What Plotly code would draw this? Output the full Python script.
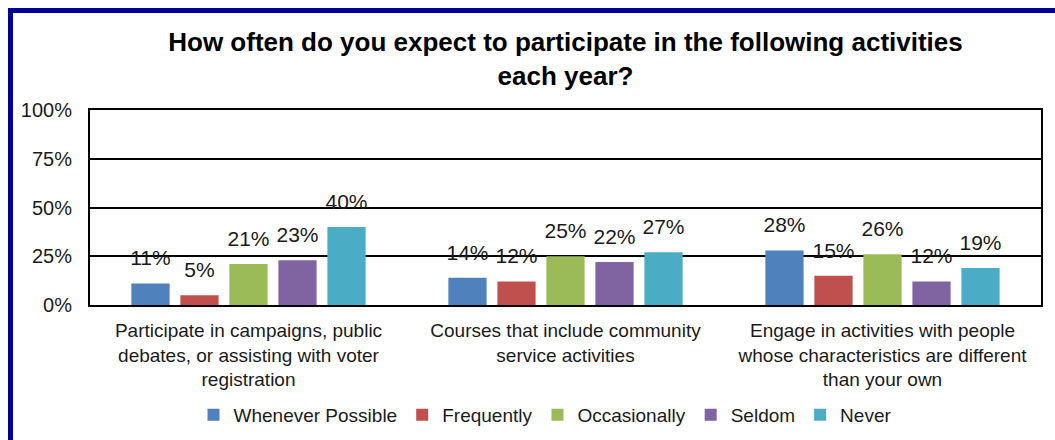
import plotly.graph_objects as go

categories = [
    "Participate in campaigns, public<br>debates, or assisting with voter<br>registration",
    "Courses that include community<br>service activities",
    "Engage in activities with people<br>whose characteristics are different<br>than your own",
]
series_names = ["Whenever Possible", "Frequently", "Occasionally", "Seldom", "Never"]
whenever_possible = [11, 14, 28]
frequently = [5, 12, 15]
occasionally = [21, 25, 26]
seldom = [23, 22, 12]
never = [40, 27, 19]
series_values = [whenever_possible, frequently, occasionally, seldom, never]
colors = ["#4F81BD", "#C0504D", "#9BBB59", "#8064A2", "#4BACC6"]
y_ticks = [0, 25, 50, 75, 100]
y_tick_labels = ["0%", "25%", "50%", "75%", "100%"]

FONT = "Liberation Sans, Arial, sans-serif"
TEXT = "#1a1a1a"

fig = go.Figure()
for name, vals, col in zip(series_names, series_values, colors):
    fig.add_trace(go.Bar(
        name=name,
        x=categories,
        y=vals,
        marker=dict(color=col, line=dict(width=0)),
        hoverinfo="x+y+name",
    ))

# value labels, grouped the same way as the bars and lifted a little above them
for name, vals in zip(series_names, series_values):
    fig.add_trace(go.Scatter(
        x=categories,
        y=vals,
        mode="markers+text",
        text=[f"{v}%" for v in vals],
        textposition="top center",
        textfont=dict(family=FONT, size=21, color=TEXT),
        marker=dict(size=19, opacity=0),
        showlegend=False,
        hoverinfo="skip",
        cliponaxis=False,
        name=name,
    ))

# plot-area geometry in pixels
W, H = 1055, 440
L, R, T, B = 90, 14, 110, 135

fig.update_layout(
    width=W, height=H,
    margin=dict(l=L, r=R, t=T, b=B, autoexpand=False),
    paper_bgcolor="white",
    plot_bgcolor="white",
    barmode="group",
    bargap=0.227,
    bargroupgap=0.22,
    scattermode="group",
    scattergap=0.227,
    title=dict(
        text="<b>How often do you expect to participate in the following activities<br>each year?</b>",
        x=0.5, xanchor="center", xref="paper",
        y=1 - 51 / H, yanchor="top",
        font=dict(family=FONT, size=26, color="#000000"),
    ),
    font=dict(family=FONT, color=TEXT),
    legend=dict(
        orientation="h",
        x=(545 - L) / (W - L - R), xanchor="center",
        y=(305 - 415) / 195, yanchor="middle",
        font=dict(family=FONT, size=19, color=TEXT),
        itemwidth=30,
        traceorder="normal",
    ),
    xaxis=dict(
        showline=True, linecolor="black", linewidth=2, mirror=True,
        tickfont=dict(family=FONT, size=19, color=TEXT),
        ticks="", showgrid=False,
        ticklabelstandoff=7,
        automargin=False,
    ),
    yaxis=dict(
        range=[0, 100],
        tickvals=y_ticks, ticktext=y_tick_labels,
        showline=True, linecolor="black", linewidth=2, mirror=True,
        showgrid=True, gridcolor="black", gridwidth=2,
        zeroline=False,
        tickfont=dict(family=FONT, size=20, color=TEXT),
        ticks="", ticklabelstandoff=12,
        automargin=False,
    ),
    showlegend=True,
)

# dark blue frame along the top and left edges
fig.add_shape(
    type="path",
    xref="paper", yref="paper",
    path=f"M {(10.5 - L) / (W - L - R)},{(H - B - 445) / (H - T - B)} "
         f"L {(10.5 - L) / (W - L - R)},{(H - B - 10.5) / (H - T - B)} "
         f"L {(1060 - L) / (W - L - R)},{(H - B - 10.5) / (H - T - B)}",
    line=dict(color="#000099", width=5),
    layer="above",
)

fig.write_html("out.html")
